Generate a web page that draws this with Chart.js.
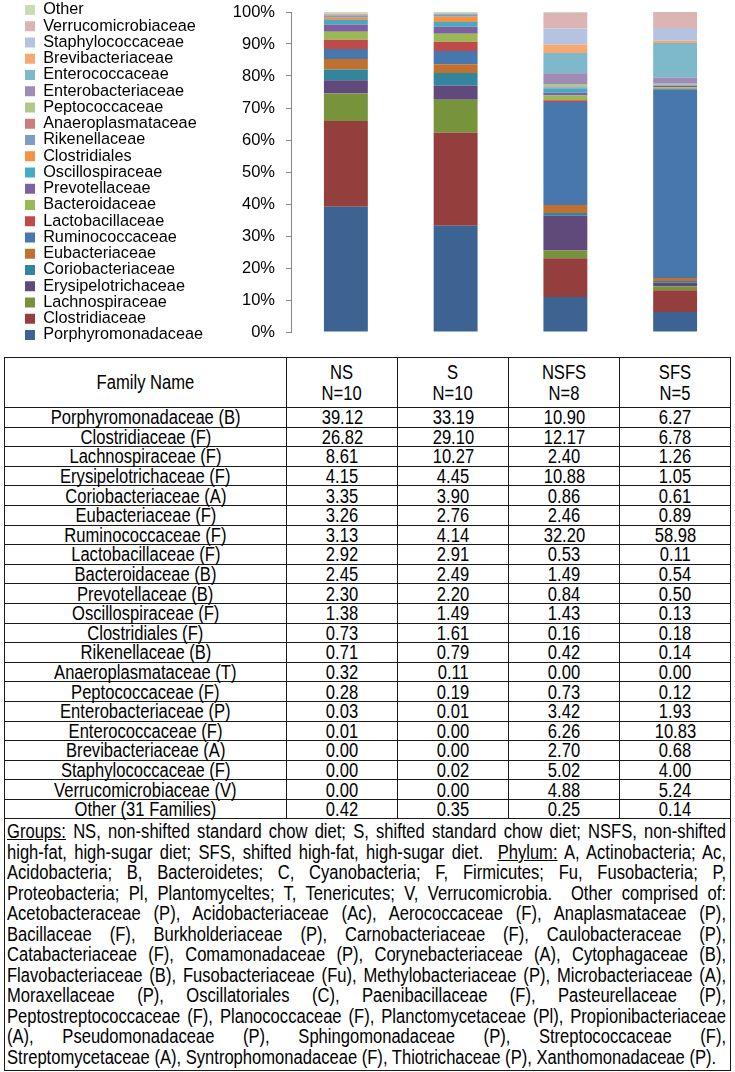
<!DOCTYPE html>
<html>
<head>
<meta charset="utf-8">
<script src="https://cdn.jsdelivr.net/npm/chart.js@4/dist/chart.umd.min.js"></script>
<style>
  body { margin: 0; background: #fff; width: 735px; height: 1072px; position: relative; overflow: hidden; }
  #chartBox { position: absolute; left: 0; top: 0; width: 735px; height: 345px; }
  #tbl {
    position: absolute; left: 4px; top: 357px; width: 727px;
    border-collapse: collapse; table-layout: fixed;
    font-family: "Liberation Sans", Arial, sans-serif;
    font-size: 19.5px; color: #000;
  }
  #tbl td, #tbl th { border: 1px solid #1a1a1a; padding: 0; text-align: center; font-weight: normal; overflow: visible; }
  #tbl tbody tr { height: 19.6px; }
  #tbl tbody td { line-height: 18px; }
  #tbl thead tr { height: 50px; }
  #tbl thead th { line-height: 21px; }
  .sx { display: inline-block; transform: scaleX(0.85); white-space: nowrap; }
  #tbl td.notes { text-align: left; padding: 2px 2px 3px 2px; line-height: 20.5px; }
  .ln { width: 845.9px; transform: scaleX(0.85); transform-origin: 0 0; text-align: justify; text-align-last: justify; white-space: nowrap; }
  .ln.last { text-align-last: left; }
</style>
</head>
<body>
<div id="chartBox"><canvas id="famChart"></canvas></div>
<table id="tbl">
  <colgroup><col style="width:282px"><col><col><col><col></colgroup>
  <thead><tr id="headRow"><th><span class="sx">Family Name</span></th></tr></thead>
  <tbody id="tbody"></tbody>
  <tfoot><tr><td colspan="5" class="notes" id="notes"></td></tr></tfoot>
</table>
<script>
// groups and sample sizes
const groups = ["NS", "S", "NSFS", "SFS"];
const groupN = [10, 10, 8, 5];

// families, bottom of the stack first
const families = ["Porphyromonadaceae", "Clostridiaceae", "Lachnospiraceae", "Erysipelotrichaceae",
  "Coriobacteriaceae", "Eubacteriaceae", "Ruminococcaceae", "Lactobacillaceae", "Bacteroidaceae",
  "Prevotellaceae", "Oscillospiraceae", "Clostridiales", "Rikenellaceae", "Anaeroplasmataceae",
  "Peptococcaceae", "Enterobacteriaceae", "Enterococcaceae", "Brevibacteriaceae",
  "Staphylococcaceae", "Verrucomicrobiaceae", "Other"];
const phylum = ["B", "F", "F", "F", "A", "F", "F", "F", "B", "B", "F", "F", "B", "T", "F", "P", "F", "A", "F", "V", ""];

// mean relative abundance (%)
const nsVals   = [39.12, 26.82, 8.61, 4.15, 3.35, 3.26, 3.13, 2.92, 2.45, 2.30, 1.38, 0.73, 0.71, 0.32, 0.28, 0.03, 0.01, 0.00, 0.00, 0.00, 0.42];
const sVals    = [33.19, 29.10, 10.27, 4.45, 3.90, 2.76, 4.14, 2.91, 2.49, 2.20, 1.49, 1.61, 0.79, 0.11, 0.19, 0.01, 0.00, 0.00, 0.02, 0.00, 0.35];
const nsfsVals = [10.90, 12.17, 2.40, 10.88, 0.86, 2.46, 32.20, 0.53, 1.49, 0.84, 1.43, 0.16, 0.42, 0.00, 0.73, 3.42, 6.26, 2.70, 5.02, 4.88, 0.25];
const sfsVals  = [6.27, 6.78, 1.26, 1.05, 0.61, 0.89, 58.98, 0.11, 0.54, 0.50, 0.13, 0.18, 0.14, 0.00, 0.12, 1.93, 10.83, 0.68, 4.00, 5.24, 0.14];

const colors = ["#3d6392", "#943f3e", "#77933c", "#604a7b", "#31859c", "#c0712f",
  "#4877ae", "#be4b48", "#98b954", "#7d60a0", "#46aac5", "#f59240",
  "#7f9bc8", "#cb7d7c", "#b0c88a", "#9e8cb6", "#7eb8cb", "#f6a872",
  "#b4c4e0", "#ddb4b4", "#c9dcb5"];

const noteLines = [
  "<u>Groups:</u> NS, non-shifted standard chow diet; S, shifted standard chow diet; NSFS, non-shifted",
  "high-fat, high-sugar diet; SFS, shifted high-fat, high-sugar diet.&nbsp; <u>Phylum:</u> A, Actinobacteria; Ac,",
  "Acidobacteria; B, Bacteroidetes; C, Cyanobacteria; F, Firmicutes; Fu, Fusobacteria; P,",
  "Proteobacteria; Pl, Plantomyceltes; T, Tenericutes; V, Verrucomicrobia.&nbsp; Other comprised of:",
  "Acetobacteraceae (P), Acidobacteriaceae (Ac), Aerococcaceae (F), Anaplasmataceae (P),",
  "Bacillaceae (F), Burkholderiaceae (P), Carnobacteriaceae (F), Caulobacteraceae (P),",
  "Catabacteriaceae (F), Comamonadaceae (P), Corynebacteriaceae (A), Cytophagaceae (B),",
  "Flavobacteriaceae (B), Fusobacteriaceae (Fu), Methylobacteriaceae (P), Microbacteriaceae (A),",
  "Moraxellaceae (P), Oscillatoriales (C), Paenibacillaceae (F), Pasteurellaceae (P),",
  "Peptostreptococcaceae (F), Planococcaceae (F), Planctomycetaceae (Pl), Propionibacteriaceae",
  "(A), Pseudomonadaceae (P), Sphingomonadaceae (P), Streptococcaceae (F),",
  "Streptomycetaceae (A), Syntrophomonadaceae (F), Thiotrichaceae (P), Xanthomonadaceae (P)."
];

// table
const headRow = document.getElementById("headRow");
groups.forEach((g, j) => {
  const th = document.createElement("th");
  th.innerHTML = '<span class="sx">' + g + "<br>N=" + groupN[j] + "</span>";
  headRow.appendChild(th);
});
const tbody = document.getElementById("tbody");
families.forEach((f, i) => {
  const tr = document.createElement("tr");
  const name = f === "Other" ? "Other (31 Families)" : f + " (" + phylum[i] + ")";
  let html = '<td><span class="sx">' + name + "</span></td>";
  [nsVals, sVals, nsfsVals, sfsVals].forEach(arr => {
    html += '<td><span class="sx">' + arr[i].toFixed(2) + "</span></td>";
  });
  tr.innerHTML = html;
  tbody.appendChild(tr);
});
document.getElementById("notes").innerHTML = noteLines
  .map((l, i) => '<div class="ln' + (i === noteLines.length - 1 ? ' last' : '') + '">' + l + '</div>')
  .join("");

// chart
Chart.defaults.font.family = '"Liberation Sans", Arial, sans-serif';
Chart.defaults.color = "#000";

const seriesByGroup = [nsVals, sVals, nsfsVals, sfsVals];
const datasets = families.map((f, i) => ({
  label: f,
  data: seriesByGroup.map(arr => arr[i]),
  backgroundColor: colors[i],
  borderWidth: 0,
  barPercentage: 0.4,
  categoryPercentage: 1.0
}));

new Chart(document.getElementById("famChart"), {
  type: "bar",
  data: { labels: groups, datasets: datasets },
  options: {
    responsive: true,
    maintainAspectRatio: false,
    animation: false,
    layout: { padding: { left: 25, right: 5, top: 0, bottom: 0 } },
    plugins: {
      tooltip: { enabled: false },
      legend: {
        position: "left",
        reverse: true,
        maxWidth: 260,
        labels: { boxWidth: 10, boxHeight: 10, padding: 0, font: { size: 16.25 }, color: "#000" }
      }
    },
    scales: {
      x: { stacked: true, display: false },
      y: {
        stacked: true,
        min: 0,
        max: 100,
        ticks: { stepSize: 10, padding: 11, font: { size: 16.5 }, callback: v => v + "%" },
        grid: { drawOnChartArea: false, drawTicks: true, tickLength: 5, color: "#868686" },
        border: { color: "#868686" },
        afterFit: scale => {
          const lw = scale.chart.legend ? scale.chart.legend.width : 190;
          scale.width = Math.max(50, 291 - 25 - lw);
          scale.paddingTop = 12;
          scale.paddingBottom = 13;
        }
      }
    }
  }
});
</script>
</body>
</html>
